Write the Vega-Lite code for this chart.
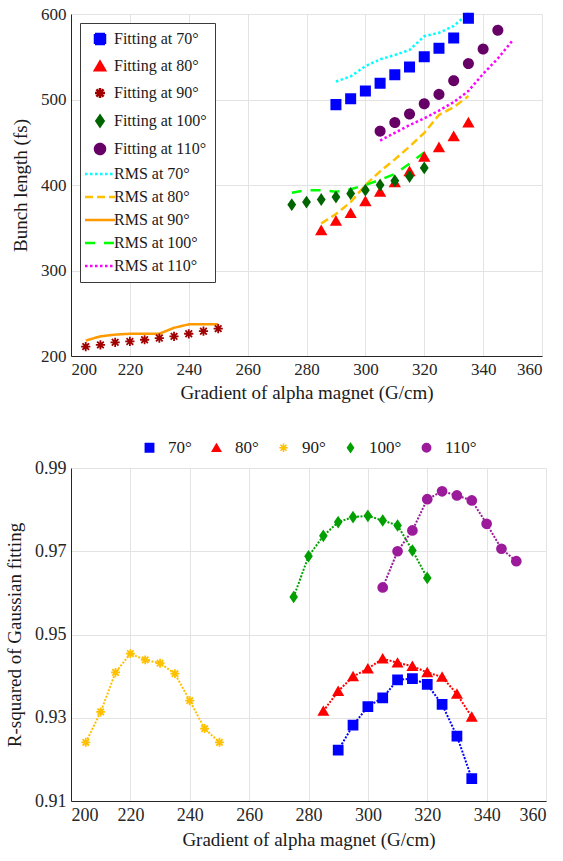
{
  "$schema": "https://vega.github.io/schema/vega-lite/v6.json",
  "padding": {"left": 5, "top": 5, "right": 10, "bottom": 6},
  "spacing": 37,
  "resolve": {
    "scale": {"color": "independent", "stroke": "independent", "shape": "independent", "strokeDash": "independent"},
    "legend": {"color": "independent", "stroke": "independent", "shape": "independent", "strokeDash": "independent"}
  },
  "config": {
    "font": "Liberation Serif",
    "view": {"stroke": null},
    "axis": {
      "domainColor": "#262626",
      "gridColor": "#E3E3E3",
      "ticks": false,
      "labelColor": "#262626",
      "titleColor": "#1a1a1a",
      "labelFont": "Liberation Serif",
      "titleFont": "Liberation Serif",
      "labelFontSize": 17,
      "titleFontSize": 19,
      "titleFontWeight": "normal",
      "labelPadding": 5
    },
    "legend": {"labelFont": "Liberation Serif", "labelColor": "#1a1a1a", "layout": {"top": {"anchor": "middle"}}}
  },
  "datasets": {
    "topFit": [
      {"g": 290, "v": 494, "s": "Fitting at 70°"}, {"g": 295, "v": 501, "s": "Fitting at 70°"}, {"g": 300, "v": 510, "s": "Fitting at 70°"}, {"g": 305, "v": 519, "s": "Fitting at 70°"}, {"g": 310, "v": 529, "s": "Fitting at 70°"}, {"g": 315, "v": 538, "s": "Fitting at 70°"}, {"g": 320, "v": 550, "s": "Fitting at 70°"}, {"g": 325, "v": 560, "s": "Fitting at 70°"}, {"g": 330, "v": 572, "s": "Fitting at 70°"}, {"g": 335, "v": 595, "s": "Fitting at 70°"},
      {"g": 285, "v": 347, "s": "Fitting at 80°"}, {"g": 290, "v": 358, "s": "Fitting at 80°"}, {"g": 295, "v": 367, "s": "Fitting at 80°"}, {"g": 300, "v": 381, "s": "Fitting at 80°"}, {"g": 305, "v": 392, "s": "Fitting at 80°"}, {"g": 310, "v": 403, "s": "Fitting at 80°"}, {"g": 315, "v": 416, "s": "Fitting at 80°"}, {"g": 320, "v": 433, "s": "Fitting at 80°"}, {"g": 325, "v": 444, "s": "Fitting at 80°"}, {"g": 330, "v": 457, "s": "Fitting at 80°"}, {"g": 335, "v": 473, "s": "Fitting at 80°"},
      {"g": 205, "v": 211, "s": "Fitting at 90°"}, {"g": 210, "v": 213, "s": "Fitting at 90°"}, {"g": 215, "v": 216, "s": "Fitting at 90°"}, {"g": 220, "v": 217, "s": "Fitting at 90°"}, {"g": 225, "v": 219, "s": "Fitting at 90°"}, {"g": 230, "v": 221, "s": "Fitting at 90°"}, {"g": 235, "v": 223, "s": "Fitting at 90°"}, {"g": 240, "v": 226, "s": "Fitting at 90°"}, {"g": 245, "v": 229, "s": "Fitting at 90°"}, {"g": 250, "v": 232, "s": "Fitting at 90°"},
      {"g": 275, "v": 377, "s": "Fitting at 100°"}, {"g": 280, "v": 380, "s": "Fitting at 100°"}, {"g": 285, "v": 383, "s": "Fitting at 100°"}, {"g": 290, "v": 386, "s": "Fitting at 100°"}, {"g": 295, "v": 390, "s": "Fitting at 100°"}, {"g": 300, "v": 394, "s": "Fitting at 100°"}, {"g": 305, "v": 400, "s": "Fitting at 100°"}, {"g": 310, "v": 405, "s": "Fitting at 100°"}, {"g": 315, "v": 410, "s": "Fitting at 100°"}, {"g": 320, "v": 420, "s": "Fitting at 100°"},
      {"g": 305, "v": 463, "s": "Fitting at 110°"}, {"g": 310, "v": 473, "s": "Fitting at 110°"}, {"g": 315, "v": 483, "s": "Fitting at 110°"}, {"g": 320, "v": 495, "s": "Fitting at 110°"}, {"g": 325, "v": 506, "s": "Fitting at 110°"}, {"g": 330, "v": 522, "s": "Fitting at 110°"}, {"g": 335, "v": 542, "s": "Fitting at 110°"}, {"g": 340, "v": 559, "s": "Fitting at 110°"}, {"g": 345, "v": 581, "s": "Fitting at 110°"}
    ],
    "topRms": [
      {"g": 290, "v": 521, "s": "RMS at 70°"}, {"g": 295, "v": 527, "s": "RMS at 70°"}, {"g": 300, "v": 539, "s": "RMS at 70°"}, {"g": 305, "v": 547, "s": "RMS at 70°"}, {"g": 310, "v": 552, "s": "RMS at 70°"}, {"g": 315, "v": 558, "s": "RMS at 70°"}, {"g": 320, "v": 574, "s": "RMS at 70°"}, {"g": 325, "v": 578, "s": "RMS at 70°"}, {"g": 330, "v": 586, "s": "RMS at 70°"}, {"g": 335, "v": 601, "s": "RMS at 70°"},
      {"g": 285, "v": 355, "s": "RMS at 80°"}, {"g": 290, "v": 366, "s": "RMS at 80°"}, {"g": 295, "v": 380, "s": "RMS at 80°"}, {"g": 300, "v": 400, "s": "RMS at 80°"}, {"g": 305, "v": 416, "s": "RMS at 80°"}, {"g": 310, "v": 430, "s": "RMS at 80°"}, {"g": 315, "v": 445, "s": "RMS at 80°"}, {"g": 320, "v": 461, "s": "RMS at 80°"}, {"g": 325, "v": 482, "s": "RMS at 80°"}, {"g": 330, "v": 491, "s": "RMS at 80°"}, {"g": 335, "v": 504, "s": "RMS at 80°"},
      {"g": 205, "v": 218, "s": "RMS at 90°"}, {"g": 210, "v": 223, "s": "RMS at 90°"}, {"g": 215, "v": 225, "s": "RMS at 90°"}, {"g": 220, "v": 226, "s": "RMS at 90°"}, {"g": 225, "v": 226, "s": "RMS at 90°"}, {"g": 230, "v": 226, "s": "RMS at 90°"}, {"g": 235, "v": 233, "s": "RMS at 90°"}, {"g": 240, "v": 237, "s": "RMS at 90°"}, {"g": 245, "v": 237, "s": "RMS at 90°"}, {"g": 250, "v": 237, "s": "RMS at 90°"},
      {"g": 275, "v": 391, "s": "RMS at 100°"}, {"g": 280, "v": 394, "s": "RMS at 100°"}, {"g": 285, "v": 394, "s": "RMS at 100°"}, {"g": 290, "v": 392, "s": "RMS at 100°"}, {"g": 295, "v": 395, "s": "RMS at 100°"}, {"g": 300, "v": 400, "s": "RMS at 100°"}, {"g": 305, "v": 406, "s": "RMS at 100°"}, {"g": 310, "v": 413, "s": "RMS at 100°"}, {"g": 315, "v": 425, "s": "RMS at 100°"}, {"g": 320, "v": 438, "s": "RMS at 100°"},
      {"g": 305, "v": 452, "s": "RMS at 110°"}, {"g": 310, "v": 461, "s": "RMS at 110°"}, {"g": 315, "v": 470, "s": "RMS at 110°"}, {"g": 320, "v": 478, "s": "RMS at 110°"}, {"g": 325, "v": 487, "s": "RMS at 110°"}, {"g": 330, "v": 497, "s": "RMS at 110°"}, {"g": 335, "v": 510, "s": "RMS at 110°"}, {"g": 340, "v": 530, "s": "RMS at 110°"}, {"g": 345, "v": 548, "s": "RMS at 110°"}, {"g": 350, "v": 569, "s": "RMS at 110°"}
    ],
    "bottom": [
      {"g": 290, "r": 0.9222, "s": "70°"}, {"g": 295, "r": 0.9282, "s": "70°"}, {"g": 300, "r": 0.9327, "s": "70°"}, {"g": 305, "r": 0.9348, "s": "70°"}, {"g": 310, "r": 0.9391, "s": "70°"}, {"g": 315, "r": 0.9394, "s": "70°"}, {"g": 320, "r": 0.938, "s": "70°"}, {"g": 325, "r": 0.9332, "s": "70°"}, {"g": 330, "r": 0.9256, "s": "70°"}, {"g": 335, "r": 0.9154, "s": "70°"},
      {"g": 285, "r": 0.9316, "s": "80°"}, {"g": 290, "r": 0.9364, "s": "80°"}, {"g": 295, "r": 0.9399, "s": "80°"}, {"g": 300, "r": 0.9418, "s": "80°"}, {"g": 305, "r": 0.9442, "s": "80°"}, {"g": 310, "r": 0.9432, "s": "80°"}, {"g": 315, "r": 0.9424, "s": "80°"}, {"g": 320, "r": 0.9409, "s": "80°"}, {"g": 325, "r": 0.9398, "s": "80°"}, {"g": 330, "r": 0.9357, "s": "80°"}, {"g": 335, "r": 0.9302, "s": "80°"},
      {"g": 205, "r": 0.9241, "s": "90°"}, {"g": 210, "r": 0.9314, "s": "90°"}, {"g": 215, "r": 0.9409, "s": "90°"}, {"g": 220, "r": 0.9454, "s": "90°"}, {"g": 225, "r": 0.9439, "s": "90°"}, {"g": 230, "r": 0.9431, "s": "90°"}, {"g": 235, "r": 0.9406, "s": "90°"}, {"g": 240, "r": 0.9341, "s": "90°"}, {"g": 245, "r": 0.9274, "s": "90°"}, {"g": 250, "r": 0.9241, "s": "90°"},
      {"g": 275, "r": 0.959, "s": "100°"}, {"g": 280, "r": 0.9688, "s": "100°"}, {"g": 285, "r": 0.9737, "s": "100°"}, {"g": 290, "r": 0.977, "s": "100°"}, {"g": 295, "r": 0.9782, "s": "100°"}, {"g": 300, "r": 0.9785, "s": "100°"}, {"g": 305, "r": 0.9774, "s": "100°"}, {"g": 310, "r": 0.9762, "s": "100°"}, {"g": 315, "r": 0.9702, "s": "100°"}, {"g": 320, "r": 0.9636, "s": "100°"},
      {"g": 305, "r": 0.9613, "s": "110°"}, {"g": 310, "r": 0.97, "s": "110°"}, {"g": 315, "r": 0.975, "s": "110°"}, {"g": 320, "r": 0.9825, "s": "110°"}, {"g": 325, "r": 0.9844, "s": "110°"}, {"g": 330, "r": 0.9834, "s": "110°"}, {"g": 335, "r": 0.9822, "s": "110°"}, {"g": 340, "r": 0.9766, "s": "110°"}, {"g": 345, "r": 0.9706, "s": "110°"}, {"g": 350, "r": 0.9676, "s": "110°"}
    ]
  },
  "vconcat": [
    {
      "width": 471,
      "height": 342,
      "encoding": {
        "x": {"field": "g", "type": "quantitative", "scale": {"domain": [200, 360], "nice": false}, "axis": {"values": [200, 220, 240, 260, 280, 300, 320, 340, 360], "title": "Gradient of alpha magnet (G/cm)", "titlePadding": 6, "labelFont": "Liberation Serif", "titleFont": "Liberation Serif"}},
        "y": {"field": "v", "type": "quantitative", "scale": {"domain": [200, 600], "nice": false}, "axis": {"values": [200, 300, 400, 500, 600], "title": "Bunch length (fs)", "titlePadding": 10, "labelFont": "Liberation Serif", "titleFont": "Liberation Serif"}}
      },
      "layer": [
        {
          "data": {"name": "topRms"},
          "mark": {"type": "line", "strokeWidth": 2.5, "clip": false},
          "encoding": {
            "color": {"field": "s", "type": "nominal",
              "scale": {"domain": ["Fitting at 70°", "Fitting at 80°", "Fitting at 90°", "Fitting at 100°", "Fitting at 110°", "RMS at 70°", "RMS at 80°", "RMS at 90°", "RMS at 100°", "RMS at 110°"],
                "range": ["#0000FF", "#FF0000", "#A00000", "#006400", "#660066", "#00FFFF", "#FFC000", "#FF9900", "#00FF00", "#FF00FF"]},
              "legend": {"title": null, "orient": "top-left", "offset": 9, "padding": 8, "fillColor": "#FFFFFF", "strokeColor": "#3a3a3a", "labelFont": "Liberation Serif", "labelFontSize": 16, "symbolSize": 100, "symbolStrokeWidth": 2.5, "symbolOffset": 4, "labelOffset": 6, "rowPadding": 7}},
            "strokeDash": {"field": "s", "type": "nominal",
              "scale": {"domain": ["Fitting at 70°", "Fitting at 80°", "Fitting at 90°", "Fitting at 100°", "Fitting at 110°", "RMS at 70°", "RMS at 80°", "RMS at 90°", "RMS at 100°", "RMS at 110°"],
                "range": [[1, 0], [1, 0], [1, 0], [1, 0], [1, 0], [2.5, 2.5], [8, 4], [1, 0], [10, 9], [2.5, 2.5]]},
              "legend": {"title": null, "orient": "top-left", "offset": 9, "padding": 8, "fillColor": "#FFFFFF", "strokeColor": "#3a3a3a", "labelFont": "Liberation Serif", "labelFontSize": 16, "symbolSize": 100, "symbolStrokeWidth": 2.5, "symbolOffset": 4, "labelOffset": 6, "rowPadding": 7}}
          }
        },
        {
          "data": {"name": "topFit"},
          "mark": {"type": "point", "filled": true, "opacity": 1, "size": 85, "strokeWidth": 1.8},
          "encoding": {
            "color": {"field": "s", "type": "nominal",
              "scale": {"domain": ["Fitting at 70°", "Fitting at 80°", "Fitting at 90°", "Fitting at 100°", "Fitting at 110°", "RMS at 70°", "RMS at 80°", "RMS at 90°", "RMS at 100°", "RMS at 110°"],
                "range": ["#0000FF", "#FF0000", "#A00000", "#006400", "#660066", "#00FFFF", "#FFC000", "#FF9900", "#00FF00", "#FF00FF"]},
              "legend": {"title": null, "orient": "top-left", "offset": 9, "padding": 8, "fillColor": "#FFFFFF", "strokeColor": "#3a3a3a", "labelFont": "Liberation Serif", "labelFontSize": 16, "symbolSize": 100, "symbolStrokeWidth": 2.5, "symbolOffset": 4, "labelOffset": 6, "rowPadding": 7}},
            "stroke": {"field": "s", "type": "nominal",
              "scale": {"domain": ["Fitting at 70°", "Fitting at 80°", "Fitting at 90°", "Fitting at 100°", "Fitting at 110°", "RMS at 70°", "RMS at 80°", "RMS at 90°", "RMS at 100°", "RMS at 110°"],
                "range": ["#0000FF", "#FF0000", "#A00000", "#006400", "#660066", "#00FFFF", "#FFC000", "#FF9900", "#00FF00", "#FF00FF"]},
              "legend": {"title": null, "orient": "top-left", "offset": 9, "padding": 8, "fillColor": "#FFFFFF", "strokeColor": "#3a3a3a", "labelFont": "Liberation Serif", "labelFontSize": 16, "symbolSize": 100, "symbolStrokeWidth": 2.5, "symbolOffset": 4, "labelOffset": 6, "rowPadding": 7}},
            "shape": {"field": "s", "type": "nominal",
              "scale": {"domain": ["Fitting at 70°", "Fitting at 80°", "Fitting at 90°", "Fitting at 100°", "Fitting at 110°", "RMS at 70°", "RMS at 80°", "RMS at 90°", "RMS at 100°", "RMS at 110°"],
                "range": ["square", "triangle-up", "M-1,0L1,0M0,-1L0,1M-0.72,-0.72L0.72,0.72M-0.72,0.72L0.72,-0.72", "M0,-1.05L0.72,0L0,1.05L-0.72,0Z", "circle", "M-3,0L3,0", "M-3,0L3,0", "M-3,0L3,0", "M-3,0L3,0", "M-3,0L3,0"]},
              "legend": {"title": null, "orient": "top-left", "offset": 9, "padding": 8, "fillColor": "#FFFFFF", "strokeColor": "#3a3a3a", "labelFont": "Liberation Serif", "labelFontSize": 16, "symbolSize": 100, "symbolStrokeWidth": 2.5, "symbolOffset": 4, "labelOffset": 6, "rowPadding": 7}},
            "strokeDash": {"field": "s", "type": "nominal",
              "scale": {"domain": ["Fitting at 70°", "Fitting at 80°", "Fitting at 90°", "Fitting at 100°", "Fitting at 110°", "RMS at 70°", "RMS at 80°", "RMS at 90°", "RMS at 100°", "RMS at 110°"],
                "range": [[1, 0], [1, 0], [1, 0], [1, 0], [1, 0], [2.5, 2.5], [8, 4], [1, 0], [10, 9], [2.5, 2.5]]},
              "legend": {"title": null, "orient": "top-left", "offset": 9, "padding": 8, "fillColor": "#FFFFFF", "strokeColor": "#3a3a3a", "labelFont": "Liberation Serif", "labelFontSize": 16, "symbolSize": 100, "symbolStrokeWidth": 2.5, "symbolOffset": 4, "labelOffset": 6, "rowPadding": 7}}
          }
        }
      ]
    },
    {
      "width": 475,
      "height": 333,
      "data": {"name": "bottom"},
      "encoding": {
        "x": {"field": "g", "type": "quantitative", "scale": {"domain": [200, 360], "nice": false}, "axis": {"values": [200, 220, 240, 260, 280, 300, 320, 340, 360], "title": "Gradient of alpha magnet (G/cm)", "titlePadding": 6, "labelFontSize": 18, "labelFont": "Liberation Serif", "titleFont": "Liberation Serif"}},
        "y": {"field": "r", "type": "quantitative", "scale": {"domain": [0.91, 0.99], "nice": false, "zero": false}, "axis": {"values": [0.91, 0.93, 0.95, 0.97, 0.99], "format": ".2f", "title": "R-squared of Gaussian fitting", "titlePadding": 10, "labelFontSize": 18, "labelFont": "Liberation Serif", "titleFont": "Liberation Serif"}}
      },
      "layer": [
        {
          "mark": {"type": "line", "strokeWidth": 2, "strokeDash": [2, 1.5]},
          "encoding": {
            "color": {"field": "s", "type": "nominal",
              "scale": {"domain": ["70°", "80°", "90°", "100°", "110°"], "range": ["#0000FF", "#FF0000", "#FFC000", "#00A000", "#9B1B9B"]},
              "legend": {"title": null, "orient": "top", "direction": "horizontal", "offset": 12, "labelFont": "Liberation Serif", "labelFontSize": 17, "symbolSize": 70, "symbolStrokeWidth": 1.5, "labelOffset": 10, "columnPadding": 16}}
          }
        },
        {
          "mark": {"type": "point", "filled": true, "opacity": 1, "size": 80, "strokeWidth": 1.8},
          "encoding": {
            "color": {"field": "s", "type": "nominal",
              "scale": {"domain": ["70°", "80°", "90°", "100°", "110°"], "range": ["#0000FF", "#FF0000", "#FFC000", "#00A000", "#9B1B9B"]},
              "legend": {"title": null, "orient": "top", "direction": "horizontal", "offset": 12, "labelFont": "Liberation Serif", "labelFontSize": 17, "symbolSize": 70, "symbolStrokeWidth": 1.5, "labelOffset": 10, "columnPadding": 16}},
            "stroke": {"field": "s", "type": "nominal",
              "scale": {"domain": ["70°", "80°", "90°", "100°", "110°"], "range": ["#0000FF", "#FF0000", "#FFC000", "#00A000", "#9B1B9B"]},
              "legend": {"title": null, "orient": "top", "direction": "horizontal", "offset": 12, "labelFont": "Liberation Serif", "labelFontSize": 17, "symbolSize": 70, "symbolStrokeWidth": 1.5, "labelOffset": 10, "columnPadding": 16}},
            "shape": {"field": "s", "type": "nominal",
              "scale": {"domain": ["70°", "80°", "90°", "100°", "110°"], "range": ["square", "triangle-up", "M-1,0L1,0M0,-1L0,1M-0.72,-0.72L0.72,0.72M-0.72,0.72L0.72,-0.72", "M0,-1.05L0.72,0L0,1.05L-0.72,0Z", "circle"]},
              "legend": {"title": null, "orient": "top", "direction": "horizontal", "offset": 12, "labelFont": "Liberation Serif", "labelFontSize": 17, "symbolSize": 70, "symbolStrokeWidth": 1.5, "labelOffset": 10, "columnPadding": 16}}
          }
        }
      ]
    }
  ]
}
